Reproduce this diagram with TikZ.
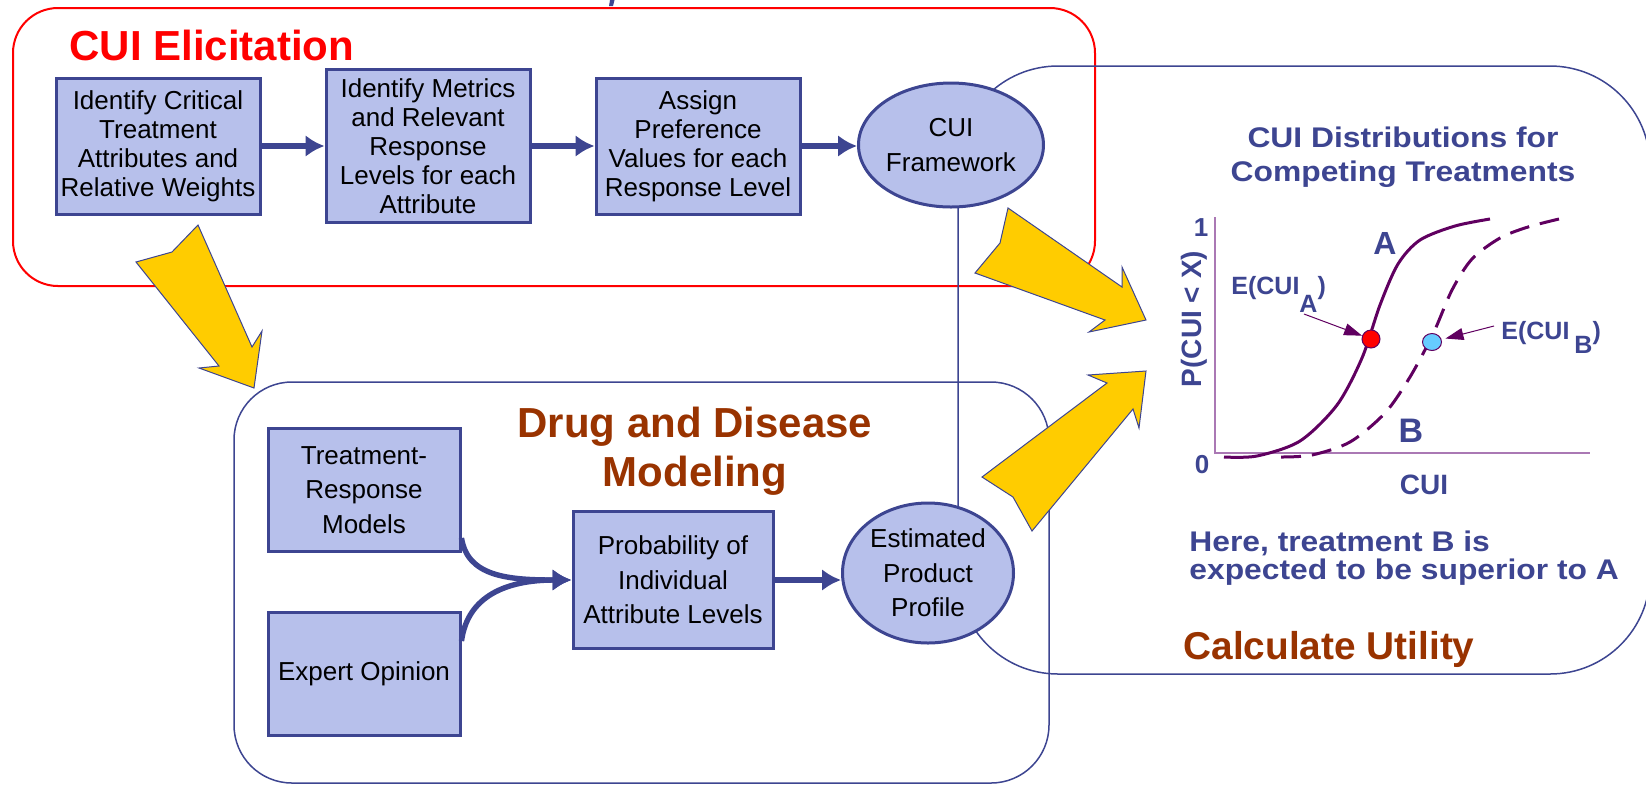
\documentclass[tikz,border=0pt]{standalone}
\usepackage{fontspec}
\setmainfont{Liberation Sans}
\newfontfamily\chartfont{Liberation Sans}[FakeStretch=1.12]
\usepackage{tikz}
\usetikzlibrary{positioning,arrows.meta,shapes.geometric}
\definecolor{boxfill}{RGB}{183,192,235}
\definecolor{navy}{RGB}{61,69,145}
\definecolor{gold}{RGB}{255,204,0}
\definecolor{rust}{RGB}{153,51,0}
\definecolor{plum}{RGB}{96,0,96}
\definecolor{axiscol}{RGB}{170,120,180}
\definecolor{skyb}{RGB}{102,204,255}

\begin{document}
\begin{tikzpicture}[x=0.5pt,y=-0.5pt,
  box/.style={draw=navy,line width=1.5pt,fill=boxfill,align=center,inner sep=0pt,font=\fontsize{13}{#1}\selectfont}, box/.default=14.5,
  oval/.style={box=17.2,ellipse},
  flow/.style={draw=navy,line width=2.7pt,-{Latex[length=9.5pt,width=11pt]}},
  group/.style={draw=navy,line width=0.75pt,rounded corners=#1},
  bigarrow/.style={fill=gold,draw=navy,line width=0.5pt},
  lbl/.style={text=navy,inner sep=0pt,font=\bfseries\fontsize{#1}{#1}\selectfont}, lbl/.default=14,
  note/.style={text=navy,inner sep=0pt,font=\chartfont\bfseries\fontsize{14.2}{#1}\selectfont},
  title/.style={text=#1,inner sep=0pt,align=center,font=\bfseries\fontsize{21}{24.5}\selectfont}]
\useasboundingbox (0,0) rectangle (1646,784);

% the three areas
\draw[red,line width=1pt,rounded corners=22.5pt] (13,8) rectangle (1095,286);
\draw[group=29pt] (234,382) rectangle (1049,783);
\draw[group=50pt] (958,66) rectangle (1650,674);
\fill[navy] (610,0) -- (614.5,0) -- (613,6) -- (609,6) -- cycle;

\node[title=red,anchor=base west] (elic) at (69,60) {CUI Elicitation};
\node[title=rust] (ddm) at (695,451) {Drug and Disease\\Modeling};
\node[title=rust,anchor=base,font=\bfseries\fontsize{19.4}{19.4}\selectfont] (calc) at (1329,659) {Calculate Utility};

% elicitation steps
\node[box,minimum width=102pt,minimum height=68pt] (crit) at (158,146) {Identify Critical\\Treatment\\Attributes and\\Relative Weights};
\node[box,minimum width=102pt,minimum height=76.5pt] (metr) at (428,146) {Identify Metrics\\and Relevant\\Response\\Levels for each\\Attribute};
\node[box,minimum width=102pt,minimum height=68pt] (pref) at (698,146) {Assign\\Preference\\Values for each\\Response Level};
\node[oval,minimum width=92.5pt,minimum height=62pt] (fw) at (951,145) {CUI\\Framework};

% modeling steps
\node[box=17.2,minimum width=96pt,minimum height=61.5pt] (trm) at (364,490) {Treatment-\\Response\\Models};
\node[box=17.2,minimum width=96pt,minimum height=61.5pt] (expo) at (364,674) {Expert Opinion};
\node[box=17.2,minimum width=100pt,minimum height=68.5pt] (prob) at (673,580) {Probability of\\Individual\\Attribute Levels};
\node[oval,minimum width=85.5pt,minimum height=70pt] (epp) at (928,573) {Estimated\\Product\\Profile};

\foreach \a/\b in {crit/metr,metr/pref,pref/fw,prob/epp} \draw[flow] (\a.east) -- (\a.east -| \b.west);
\draw[flow] ([yshift=7.5pt]trm.south east) .. controls +(6,38) and +(-65,0) .. (prob.west);
\draw[flow] ([yshift=-15pt]expo.north east) .. controls +(6,-45) and +(-65,0) .. (prob.west);

% chart
\node[note=17,align=center] (ctitle) at (1403,157) {CUI Distributions for\\Competing Treatments};
\draw[axiscol,line width=1pt] (1215,217) -- (1215,453) -- (1590,453);
\node[lbl,rotate=90] (ylab) at (1194,319) {P(CUI < X)};
\node[lbl=13] (one) at (1201,228) {1};
\node[lbl=13] (zero) at (1202,465) {0};
\node[lbl] (xlab) at (1424,485) {CUI};
\draw[plum,line width=1.5pt] plot[smooth] coordinates {(1224,457) (1257,456) (1300,441) (1337,405) (1362,358) (1380,305) (1398,264) (1420,240) (1455,226) (1490,219)};
\draw[plum,line width=1.5pt,dash pattern=on 10pt off 5.5pt] plot[smooth] coordinates {(1281,457) (1312,455) (1350,442) (1385,413) (1410,377) (1433,334) (1452,290) (1472,259) (1500,238) (1528,227) (1559,219)};
\node[lbl=16] (labA) at (1385,243) {A};
\node[lbl=17] (labB) at (1411,431) {B};
\node[circle,fill=red,draw=plum,line width=0.5pt,minimum size=9pt,inner sep=0pt] (dotA) at (1371,339) {};
\node[ellipse,fill=skyb,draw=plum,line width=0.5pt,minimum width=9.5pt,minimum height=8.5pt,inner sep=0pt] (dotB) at (1432,342) {};
\node[lbl=12.5,anchor=base west] (eA) at (1231,294) {E(CUI\raisebox{-9pt}{A})};
\node[lbl=12.5,anchor=base west] (eB) at (1501,339) {E(CUI\hspace{2.5pt}\raisebox{-7pt}{B})};
\coordinate (pA) at (1304,314);
\coordinate (pB) at (1494,326);
\draw[plum,line width=0.5pt,-{Triangle[length=9pt,width=6pt]}] (pA) -- (dotA);
\draw[plum,line width=0.5pt,shorten >=2pt,-{Triangle[length=9pt,width=6pt]}] (pB) -- (dotB);
\node[note=14,align=left,anchor=west] (verdict) at (1189,558) {Here, treatment B is\\expected to be superior to A};

% big yellow arrows
\draw[bigarrow] (136,262) -- (172,252) -- (198,225) -- (252,347) -- (262,331) -- (254,388) -- (199,368) -- (219,366) -- cycle;
\draw[bigarrow] (1008,208) -- (1000,243) -- (975,273) -- (1105,320) -- (1089,332) -- (1146,320) -- (1122,267) -- (1122,287) -- cycle;
\draw[bigarrow] (982,477) -- (1013,497) -- (1032,531) -- (1133,409) -- (1139,428) -- (1146,371) -- (1088,375) -- (1107,383) -- cycle;
\end{tikzpicture}
\end{document}
